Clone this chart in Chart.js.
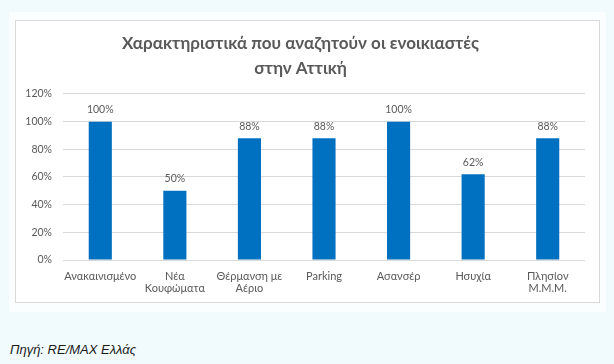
<!DOCTYPE html>
<html>
<head>
<meta charset="utf-8">
<script src="https://cdn.jsdelivr.net/npm/chart.js@4/dist/chart.umd.min.js"></script>
<style>
  html, body { margin: 0; padding: 0; }
  body { width: 614px; height: 364px; background: #f1fbfe; position: relative; overflow: hidden; font-family: Lato, "Open Sans", sans-serif; }
  #panel { position: absolute; left: 9px; top: 12px; width: 597px; height: 300px; background: #fbfeff; }
  #box { position: absolute; left: 15px; top: 20px; width: 583px; height: 281px; background: #fff; border: 1px solid #d9d9d9; }
  #wrap { position: absolute; left: 0; top: 0; width: 583px; height: 281px; }
  #source { position: absolute; left: 10px; top: 342px; font-size: 13px; font-style: italic; color: #1a1a1a; font-family: "Liberation Sans", Arial, sans-serif; }
</style>
</head>
<body>
<div id="panel"></div>
<div id="box"><div id="wrap"><canvas id="chart" width="583" height="281"></canvas></div></div>
<div id="source">Πηγή: RE/MAX Ελλάς</div>
<script>
const categories = ['Ανακαινισμένο', ['Νέα', 'Κουφώματα'], ['Θέρμανση με', 'Αέριο'], 'Parking', 'Ασανσέρ', 'Ησυχία', ['Πλησίον', 'Μ.Μ.Μ.']];
const values = [1.00, 0.50, 0.88, 0.88, 1.00, 0.62, 0.88];
const titleLines = ['Χαρακτηριστικά που αναζητούν οι ενοικιαστές', 'στην Αττική'];

const grey = '#595959';
const fontFamily = 'Lato, "Open Sans", sans-serif';

// value labels above each bar
const barLabels = {
  id: 'barLabels',
  afterDatasetsDraw(chart) {
    const ctx = chart.ctx;
    const meta = chart.getDatasetMeta(0);
    ctx.save();
    ctx.fillStyle = grey;
    ctx.font = '10.5px ' + fontFamily;
    ctx.textAlign = 'center';
    ctx.textBaseline = 'middle';
    meta.data.forEach((bar, i) => {
      ctx.fillText(Math.round(values[i] * 100) + '%', bar.x, bar.y - 12);
    });
    ctx.restore();
  }
};

new Chart(document.getElementById('chart'), {
  type: 'bar',
  data: {
    labels: categories,
    datasets: [{ data: values, backgroundColor: '#0070c0', barPercentage: 0.31, categoryPercentage: 1 }]
  },
  options: {
    responsive: false,
    animation: false,
    layout: { padding: { left: 0, right: 14, top: 0, bottom: 0 } },
    plugins: {
      legend: { display: false },
      tooltip: { enabled: false },
      title: {
        display: true,
        text: titleLines,
        color: grey,
        font: { family: fontFamily, size: 17, weight: 'bold', lineHeight: 1.47 },
        padding: { top: 10, bottom: 13 }
      }
    },
    scales: {
      x: {
        grid: { display: false },
        border: { display: false },
        ticks: { color: grey, font: { family: fontFamily, size: 11, lineHeight: 1.1 }, padding: 2, maxRotation: 0, autoSkip: false },
        afterFit(scale) { scale.height = 42; }
      },
      y: {
        min: 0, max: 1.2,
        grid: { color: '#d9d9d9', drawTicks: false },
        border: { display: false },
        ticks: { stepSize: 0.2, color: grey, font: { family: fontFamily, size: 10.5 }, padding: 11,
          callback: v => Math.round(v * 100) + '%' },
        afterFit(scale) { scale.width = 47; }
      }
    }
  },
  plugins: [barLabels]
});
</script>
</body>
</html>
